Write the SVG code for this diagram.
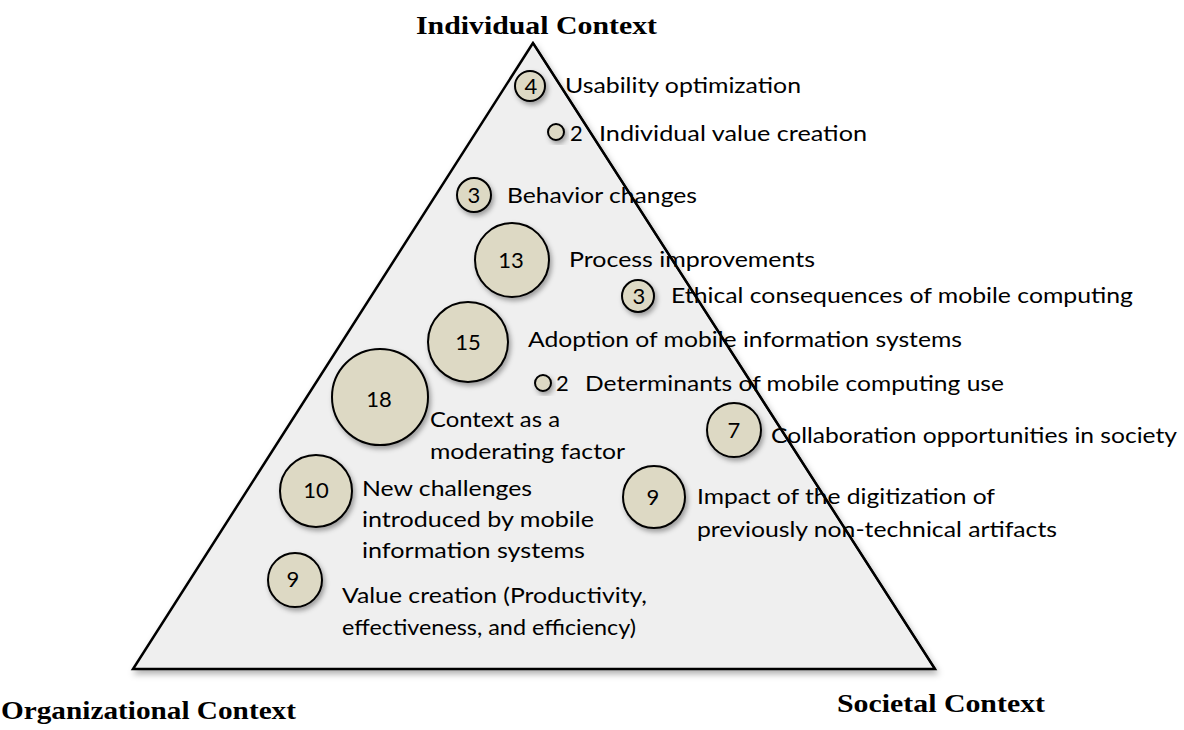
<svg xmlns="http://www.w3.org/2000/svg" width="1184" height="730" viewBox="0 0 1184 730">
<defs>
<filter id="sh" x="-20%" y="-20%" width="150%" height="150%">
<feDropShadow dx="2" dy="3" stdDeviation="2.5" flood-color="#000" flood-opacity="0.35"/>
</filter>
<filter id="tsh" x="-5%" y="-5%" width="110%" height="110%">
<feDropShadow dx="2" dy="4" stdDeviation="3" flood-color="#000" flood-opacity="0.3"/>
</filter>
<style>
.tri{fill:#efefef;stroke:#000;stroke-width:2.5;stroke-linejoin:miter}
.edge{fill:none;stroke:#000;stroke-width:2}
.c{fill:#ddd9c4;stroke:#000;stroke-width:2}
.n{font-family:Lato,"Open Sans","Liberation Sans",sans-serif;font-size:22px;fill:#000;text-anchor:middle}
.l{font-family:Lato,"Open Sans","Liberation Sans",sans-serif;font-size:22px;fill:#000}
.h{font-family:"Liberation Serif","Times New Roman",serif;font-size:26px;font-weight:bold;fill:#000}
</style>
</defs>
<rect width="1184" height="730" fill="#fff"/>
<g id="triangle">
<polygon class="tri" points="533,43 133,669 935,669" filter="url(#tsh)"/>
</g>
<g id="titles">
<text class="h" x="416" y="34" textLength="241" lengthAdjust="spacingAndGlyphs">Individual Context</text>
<text class="h" x="1" y="719" textLength="295" lengthAdjust="spacingAndGlyphs">Organizational Context</text>
<text class="h" x="837" y="712" textLength="208" lengthAdjust="spacingAndGlyphs">Societal Context</text>
</g>
<g id="connectors"></g>
<g id="n-usability">
<circle class="c" cx="530" cy="86" r="15" filter="url(#sh)"/>
<text class="n" x="531" y="94">4</text>
<text class="l" x="565" y="93" textLength="236" lengthAdjust="spacingAndGlyphs">Usability optimization</text>
</g>
<g id="n-individual-value">
<circle class="c" cx="556" cy="132" r="8" filter="url(#sh)"/>
<text class="l" x="570" y="141">2</text>
<text class="l" x="599" y="141" textLength="268" lengthAdjust="spacingAndGlyphs">Individual value creation</text>
</g>
<g id="n-behavior">
<circle class="c" cx="474" cy="195" r="17" filter="url(#sh)"/>
<text class="n" x="474" y="203">3</text>
<text class="l" x="507" y="203" textLength="190" lengthAdjust="spacingAndGlyphs">Behavior changes</text>
</g>
<g id="n-process">
<circle class="c" cx="512" cy="260" r="37" filter="url(#sh)"/>
<text class="n" x="511" y="268">13</text>
<text class="l" x="569" y="267" textLength="246" lengthAdjust="spacingAndGlyphs">Process improvements</text>
</g>
<g id="n-ethical">
<circle class="c" cx="638" cy="296" r="16" filter="url(#sh)"/>
<text class="n" x="639" y="304">3</text>
<text class="l" x="671" y="303" textLength="462" lengthAdjust="spacingAndGlyphs">Ethical consequences of mobile computing</text>
</g>
<g id="n-adoption">
<circle class="c" cx="468" cy="342" r="40" filter="url(#sh)"/>
<text class="n" x="468" y="350">15</text>
<text class="l" x="528" y="347" textLength="434" lengthAdjust="spacingAndGlyphs">Adoption of mobile information systems</text>
</g>
<g id="n-determinants">
<circle class="c" cx="543" cy="383" r="8" filter="url(#sh)"/>
<text class="l" x="556" y="391">2</text>
<text class="l" x="585" y="391" textLength="419" lengthAdjust="spacingAndGlyphs">Determinants of mobile computing use</text>
</g>
<g id="n-context">
<circle class="c" cx="380" cy="397" r="48" filter="url(#sh)"/>
<text class="n" x="379" y="407">18</text>
<text class="l" x="430" y="427" textLength="130" lengthAdjust="spacingAndGlyphs">Context as a</text>
<text class="l" x="430" y="459" textLength="195" lengthAdjust="spacingAndGlyphs">moderating factor</text>
</g>
<g id="n-collaboration">
<circle class="c" cx="734" cy="430" r="27" filter="url(#sh)"/>
<text class="n" x="734" y="438">7</text>
<text class="l" x="771" y="443" textLength="406" lengthAdjust="spacingAndGlyphs">Collaboration opportunities in society</text>
</g>
<g id="n-challenges">
<circle class="c" cx="316" cy="491" r="36" filter="url(#sh)"/>
<text class="n" x="316" y="498">10</text>
<text class="l" x="362" y="496" textLength="170" lengthAdjust="spacingAndGlyphs">New challenges</text>
<text class="l" x="362" y="527" textLength="232" lengthAdjust="spacingAndGlyphs">introduced by mobile</text>
<text class="l" x="362" y="558" textLength="223" lengthAdjust="spacingAndGlyphs">information systems</text>
</g>
<g id="n-impact">
<circle class="c" cx="654" cy="497" r="31" filter="url(#sh)"/>
<text class="n" x="653" y="505">9</text>
<text class="l" x="697" y="504" textLength="298" lengthAdjust="spacingAndGlyphs">Impact of the digitization of</text>
<text class="l" x="697" y="537" textLength="360" lengthAdjust="spacingAndGlyphs">previously non-technical artifacts</text>
</g>
<g id="n-value">
<circle class="c" cx="295" cy="580" r="27" filter="url(#sh)"/>
<text class="n" x="293" y="587">9</text>
<text class="l" x="342" y="603" textLength="305" lengthAdjust="spacingAndGlyphs">Value creation (Productivity,</text>
<text class="l" x="342" y="635" textLength="294" lengthAdjust="spacingAndGlyphs">effectiveness, and efficiency)</text>
</g>
<g id="edge-over">
<line class="edge" x1="533" y1="43" x2="935" y2="669"/>
</g>
</svg>
